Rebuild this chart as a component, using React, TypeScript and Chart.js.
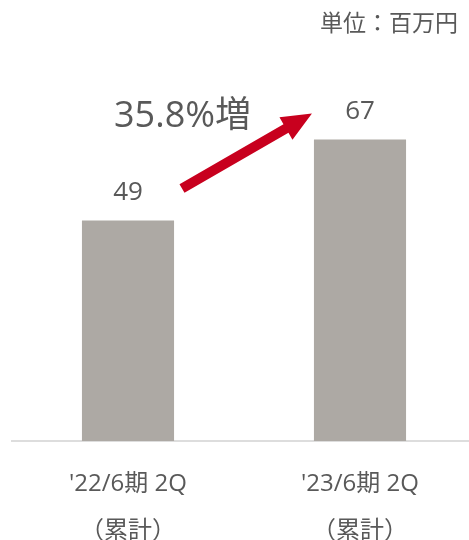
import React, { useEffect, useRef } from "react";
import { Chart, registerables } from "chart.js";

Chart.register(...registerables);

const categories: string[][] = [
  ["'22/6期 2Q", "（累計）"],
  ["'23/6期 2Q", "（累計）"],
];
const values: number[] = [49, 67];
const growthLabel = "35.8%増";
const unitLabel = "単位：百万円";

const FONT = "'Open Sans', 'Noto Sans CJK JP', sans-serif";
const TEXT = "#595959";
const BAR = "#ADA9A4";
const RED = "#C8001E";

const overlay = {
  id: "overlay",
  afterDatasetsDraw(chart: any) {
    const { ctx } = chart;
    const meta = chart.getDatasetMeta(0);
    const yS = chart.scales.y;
    ctx.save();
    // value labels
    ctx.fillStyle = TEXT;
    ctx.font = `26px ${FONT}`;
    ctx.textAlign = "center";
    ctx.textBaseline = "middle";
    meta.data.forEach((bar: any, i: number) => {
      ctx.fillText(String(values[i]), bar.x, yS.getPixelForValue(values[i]) - 28);
    });
    // arrow
    const b0 = meta.data[0];
    const b1 = meta.data[1];
    const sx = b0.x + 54;
    const sy = yS.getPixelForValue(values[0]) - 32;
    const ex = b1.x - b1.width / 2 - 2;
    const ey = yS.getPixelForValue(values[1]) - 26;
    const ang = Math.atan2(ey - sy, ex - sx);
    const len = Math.hypot(ex - sx, ey - sy);
    const headLen = 30;
    const headW = 13;
    const shaftW = 5;
    ctx.translate(sx, sy);
    ctx.rotate(ang);
    ctx.beginPath();
    ctx.moveTo(0, -shaftW);
    ctx.lineTo(len - headLen, -shaftW);
    ctx.lineTo(len - headLen, -headW);
    ctx.lineTo(len, 0);
    ctx.lineTo(len - headLen, headW);
    ctx.lineTo(len - headLen, shaftW);
    ctx.lineTo(0, shaftW);
    ctx.closePath();
    ctx.fillStyle = RED;
    ctx.fill();
    ctx.setTransform(1, 0, 0, 1, 0, 0);
    // growth text
    ctx.fillStyle = TEXT;
    ctx.font = `36px ${FONT}`;
    ctx.textAlign = "left";
    ctx.textBaseline = "middle";
    ctx.fillText(growthLabel, 114, 117);
    // unit label
    ctx.font = `23px ${FONT}`;
    ctx.textAlign = "right";
    ctx.fillText(unitLabel, 458, 24);
    ctx.restore();
  },
};

export default function App() {
  const ref = useRef<HTMLCanvasElement>(null);
  useEffect(() => {
    if (!ref.current) return;
    const chart = new Chart(ref.current, {
      type: "bar",
      data: {
        labels: categories,
        datasets: [
          {
            data: values,
            backgroundColor: BAR,
            categoryPercentage: 1,
            barPercentage: 0.397,
          },
        ],
      },
      options: {
        animation: false,
        responsive: false,
        maintainAspectRatio: false,
        layout: { padding: { top: 81, left: 12, right: 4, bottom: 0 } },
        plugins: { legend: { display: false }, tooltip: { enabled: false } },
        scales: {
          x: {
            grid: { display: false, drawTicks: false },
            border: { display: true, color: "#DDDDDD", width: 2 },
            ticks: {
              color: TEXT,
              font: { family: FONT, size: 24, lineHeight: 1.95 },
              padding: 20,
              maxRotation: 0,
            },
            afterFit: (s: any) => {
              s.height = 99;
            },
          },
          y: { display: false, min: 0, max: 80 },
        },
      },
      plugins: [overlay],
    });
    return () => chart.destroy();
  }, []);
  return (
    <div style={{ position: "absolute", left: 0, top: 0, width: 469, height: 540, overflow: "hidden", background: "#fff" }}>
      <canvas ref={ref} width={480} height={540} style={{ width: 480, height: 540, display: "block" }} />
    </div>
  );
}
